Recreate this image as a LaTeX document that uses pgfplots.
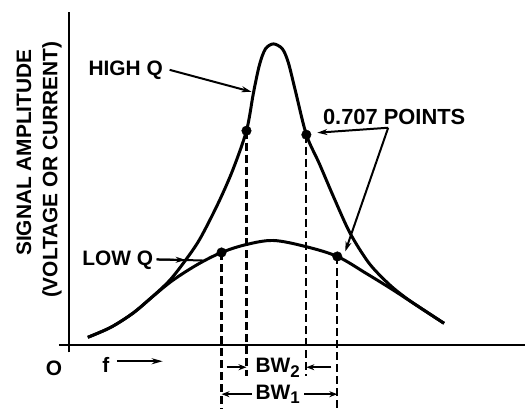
\documentclass[border=0pt]{standalone}
\usepackage{pgfplots}
\pgfplotsset{compat=1.18}
\usepackage{fontspec}
\setmainfont{Liberation Sans}
\usetikzlibrary{arrows.meta}
\begin{document}
\begin{tikzpicture}
\begin{axis}[
  width=467bp, height=341bp, scale only axis,
  xmin=-10, xmax=457, ymin=-7, ymax=334,
  axis lines=middle,
  axis line style={-, line width=2.2bp},
  every inner x axis line/.append style={-},
  every inner y axis line/.append style={-},
  xtick=\empty, ytick=\empty,
  clip=false,
  font=\fontsize{21}{24}\selectfont\bfseries,
]
% invisible frame giving the picture its proportions
\path (axis cs:-69,-64) rectangle (axis cs:457,346);

% LOW Q curve
\addplot[line width=3bp, smooth, tension=0.55] coordinates {
(19,8) (42,18) (64,32) (83,48) (104,65) (129,81) (153,93) (178,101) (205,105)
(237,99) (269,89) (298,72) (324,56) (350,39) (376,22)};

% HIGH Q curve
\addplot[line width=3bp, smooth, tension=0.5] coordinates {
(19,8) (42,18) (64,32) (83,48) (101,65) (116,84) (131,106) (149,141) (164,175)
(178,215) (185,253) (191,281) (197,297) (205,302) (214,297) (220,283)
(227,255) (238,211) (251,182) (266,147) (282,112) (301,82) (321,61)
(337,48) (350,39) (376,22)};

% 0.707 points
\addplot[only marks, mark=*, mark size=4.8bp, black] coordinates {
(153,93) (178,215) (238,211) (269,89)};

% dashed drop lines
\draw[line width=2.2bp, dash pattern=on 8bp off 4bp] (axis cs:153,93) -- (axis cs:153,-64);
\draw[line width=2.2bp, dash pattern=on 8bp off 4bp] (axis cs:178,215) -- (axis cs:178,-31);
\draw[line width=2.2bp, dash pattern=on 8bp off 4bp] (axis cs:238,211) -- (axis cs:238,-31);
\draw[line width=2.2bp, dash pattern=on 8bp off 4bp] (axis cs:269,89) -- (axis cs:269,-64);

% bandwidth arrows
\draw[line width=1.8bp, -{Stealth[length=8bp,width=6bp]}] (axis cs:158,-22) -- (axis cs:178,-22);
\draw[line width=1.8bp, -{Stealth[length=8bp,width=6bp]}] (axis cs:263,-22) -- (axis cs:238,-22);
\draw[line width=1.8bp, {Stealth[length=8bp,width=6bp]}-] (axis cs:153,-49) -- (axis cs:184,-49);
\draw[line width=1.8bp, -{Stealth[length=8bp,width=6bp]}] (axis cs:236,-49) -- (axis cs:269,-49);
\node[anchor=west, inner sep=0pt] at (axis cs:187,-23) {BW\raisebox{-0.45ex}{\fontsize{17}{17}\selectfont 2}};
\node[anchor=west, inner sep=0pt] at (axis cs:187,-49) {BW\raisebox{-0.3ex}{\fontsize{17}{17}\selectfont 1}};

% labels
\node at (axis cs:57,276) {HIGH Q};
\node at (axis cs:49,85) {LOW Q};
\node[font=\fontsize{22}{24}\selectfont\bfseries] at (axis cs:326,229) {0.707 POINTS};
\node at (axis cs:-15,-23) {O};
\node at (axis cs:37,-20) {f};
\draw[line width=2bp, -{Stealth[length=11bp,width=6bp]}] (axis cs:48,-16) -- (axis cs:94,-16);

% pointer arrows
\draw[line width=2bp, -{Stealth[length=10bp,width=6bp]}] (axis cs:101,276) -- (axis cs:183,254);
\draw[line width=2bp] (axis cs:88,86) -- (axis cs:134,85);
\draw[line width=2bp, -{Stealth[length=10bp,width=6bp]}] (axis cs:88,86) -- (axis cs:117,85.5);
\draw[line width=2bp, -{Stealth[length=10bp,width=6bp]}] (axis cs:320,218) -- (axis cs:249,213);
\draw[line width=2bp, -{Stealth[length=10bp,width=6bp]}] (axis cs:320,218) -- (axis cs:277,94);

% y label
\node[rotate=90] at (axis cs:-45,193) {SIGNAL AMPLITUDE};
\node[rotate=90] at (axis cs:-17,176) {(VOLTAGE OR CURRENT)};
\end{axis}
\end{tikzpicture}
\end{document}
